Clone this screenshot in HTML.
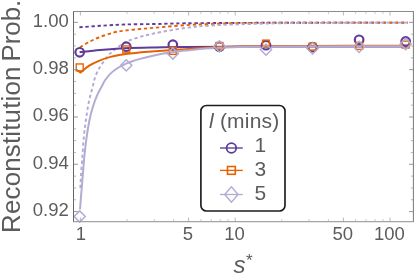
<!DOCTYPE html>
<html><head><meta charset="utf-8"><title>chart</title><style>html,body{margin:0;padding:0;background:#fff}body{width:415px;height:280px;overflow:hidden}</style></head><body>
<svg width="415" height="280" viewBox="0 0 415 280" style="display:block;will-change:transform">
<rect width="415" height="280" fill="#fff"/>
<defs><clipPath id="c"><rect x="73.50" y="11.50" width="339.90" height="210.10"/></clipPath></defs>
<g clip-path="url(#c)" fill="none" stroke-linejoin="round">
<path d="M79.40 27.30 C82.83 27.05 92.40 26.27 100.00 25.80 C107.60 25.33 115.83 24.80 125.00 24.50 C134.17 24.20 145.00 24.20 155.00 24.00 C165.00 23.80 170.83 23.48 185.00 23.30 C199.17 23.12 220.83 23.00 240.00 22.90 C259.17 22.80 272.02 22.75 300.00 22.70 C327.98 22.65 389.92 22.62 407.90 22.60" stroke="#5e3c99" stroke-width="1.9" stroke-dasharray="3.3492 2.7194"/>
<path d="M80.00 47.40 C81.33 46.58 84.85 44.15 88.00 42.50 C91.15 40.85 94.67 39.15 98.90 37.50 C103.13 35.85 109.05 33.75 113.40 32.60 C117.75 31.45 120.57 31.20 125.00 30.60 C129.43 30.00 135.00 29.48 140.00 29.00 C145.00 28.52 147.50 28.33 155.00 27.70 C162.50 27.07 175.83 25.82 185.00 25.20 C194.17 24.58 200.83 24.35 210.00 24.00 C219.17 23.65 225.00 23.32 240.00 23.10 C255.00 22.88 272.02 22.78 300.00 22.70 C327.98 22.62 389.92 22.62 407.90 22.60" stroke="#e66101" stroke-width="1.9" stroke-dasharray="3.3805 2.7447"/>
<path d="M80.30 188.00 C80.42 185.83 80.65 180.33 81.00 175.00 C81.35 169.67 81.93 162.28 82.40 156.00 C82.87 149.72 83.22 143.30 83.80 137.30 C84.38 131.30 85.07 125.83 85.90 120.00 C86.73 114.17 87.60 108.13 88.80 102.30 C90.00 96.47 92.02 89.27 93.10 85.00 C94.18 80.73 94.33 79.40 95.30 76.70 C96.27 74.00 97.58 71.20 98.90 68.80 C100.22 66.40 101.63 64.50 103.20 62.30 C104.77 60.10 106.85 57.32 108.30 55.60 C109.75 53.88 109.12 54.20 111.90 52.00 C114.68 49.80 120.32 44.90 125.00 42.40 C129.68 39.90 135.00 38.53 140.00 37.00 C145.00 35.47 147.50 34.70 155.00 33.20 C162.50 31.70 175.83 29.27 185.00 28.00 C194.17 26.73 200.83 26.22 210.00 25.60 C219.17 24.98 225.00 24.73 240.00 24.30 C255.00 23.87 272.02 23.28 300.00 23.00 C327.98 22.72 389.92 22.67 407.90 22.60" stroke="#b2abd2" stroke-width="1.9" stroke-dasharray="3.3306 2.7042"/>
<path d="M79.60 52.30 C83.00 51.92 92.43 50.68 100.00 50.00 C107.57 49.32 115.83 48.63 125.00 48.20 C134.17 47.77 145.00 47.60 155.00 47.40 C165.00 47.20 170.83 47.13 185.00 47.00 C199.17 46.87 220.83 46.69 240.00 46.60 C259.17 46.51 272.02 46.48 300.00 46.45 C327.98 46.43 389.92 46.45 407.90 46.45" stroke="#5e3c99" stroke-width="2"/>
<path d="M77.20 70.30 C77.77 70.68 80.03 72.22 80.60 72.60 L80.60 72.60 C81.97 71.48 85.75 67.87 88.80 65.90 C91.85 63.93 95.28 62.30 98.90 60.80 C102.52 59.30 106.88 57.90 110.50 56.90 C114.12 55.90 117.35 55.38 120.60 54.80 C123.85 54.22 124.27 54.00 130.00 53.40 C135.73 52.80 145.83 51.90 155.00 51.20 C164.17 50.50 175.83 49.82 185.00 49.20 C194.17 48.58 200.83 47.95 210.00 47.50 C219.17 47.05 225.00 46.76 240.00 46.50 C255.00 46.24 272.02 46.06 300.00 45.95 C327.98 45.84 389.92 45.87 407.90 45.85" stroke="#e66101" stroke-width="2"/>
<path d="M80.00 209.30 C80.19 206.92 80.68 200.72 81.15 195.00 C81.62 189.28 82.24 181.67 82.80 175.00 C83.36 168.33 83.87 161.28 84.50 155.00 C85.13 148.72 85.77 143.13 86.60 137.30 C87.43 131.47 88.45 125.10 89.50 120.00 C90.55 114.90 91.62 110.85 92.90 106.70 C94.18 102.55 95.60 98.72 97.20 95.10 C98.80 91.48 101.25 87.38 102.50 85.00 C103.75 82.62 103.37 82.70 104.70 80.80 C106.03 78.90 108.33 75.73 110.50 73.60 C112.67 71.47 115.30 69.57 117.70 68.00 C120.10 66.43 122.85 65.18 124.90 64.20 C126.95 63.22 127.48 62.98 130.00 62.10 C132.52 61.22 135.83 60.05 140.00 58.90 C144.17 57.75 150.00 56.27 155.00 55.20 C160.00 54.13 165.00 53.27 170.00 52.50 C175.00 51.73 178.33 51.30 185.00 50.60 C191.67 49.90 200.83 48.90 210.00 48.30 C219.17 47.70 225.00 47.32 240.00 47.00 C255.00 46.68 272.02 46.53 300.00 46.40 C327.98 46.27 389.92 46.23 407.90 46.20" stroke="#b2abd2" stroke-width="2"/>
</g>
<g fill="none" stroke-width="1.45">
<circle cx="79.70" cy="52.30" r="4.3" stroke="#5e3c99" stroke-width="2.2"/>
<circle cx="126.27" cy="46.70" r="4.3" stroke="#5e3c99" stroke-width="2.2"/>
<circle cx="172.84" cy="44.70" r="4.3" stroke="#5e3c99" stroke-width="2.2"/>
<circle cx="219.41" cy="46.70" r="4.3" stroke="#5e3c99" stroke-width="2.2"/>
<circle cx="265.98" cy="45.20" r="4.3" stroke="#5e3c99" stroke-width="2.2"/>
<circle cx="312.55" cy="47.20" r="4.3" stroke="#5e3c99" stroke-width="2.2"/>
<circle cx="359.12" cy="39.80" r="4.3" stroke="#5e3c99" stroke-width="2.2"/>
<circle cx="405.69" cy="41.50" r="4.3" stroke="#5e3c99" stroke-width="2.2"/>
<rect x="76.25" y="63.95" width="6.9" height="6.9" stroke="#e66101" stroke-width="1.35"/>
<rect x="122.82" y="45.95" width="6.9" height="6.9" stroke="#e66101" stroke-width="1.35"/>
<rect x="169.39" y="47.45" width="6.9" height="6.9" stroke="#e66101" stroke-width="1.35"/>
<rect x="215.96" y="42.45" width="6.9" height="6.9" stroke="#e66101" stroke-width="1.35"/>
<rect x="262.53" y="40.15" width="6.9" height="6.9" stroke="#e66101" stroke-width="1.35"/>
<rect x="309.10" y="43.15" width="6.9" height="6.9" stroke="#e66101" stroke-width="1.35"/>
<rect x="355.67" y="42.45" width="6.9" height="6.9" stroke="#e66101" stroke-width="1.35"/>
<rect x="402.24" y="41.15" width="6.9" height="6.9" stroke="#e66101" stroke-width="1.35"/>
<path d="M74.10 216.50 L79.70 210.90 L85.30 216.50 L79.70 222.10Z" stroke="#b2abd2"/>
<path d="M120.67 65.30 L126.27 59.70 L131.87 65.30 L126.27 70.90Z" stroke="#b2abd2"/>
<path d="M167.24 53.50 L172.84 47.90 L178.44 53.50 L172.84 59.10Z" stroke="#b2abd2"/>
<path d="M213.81 46.30 L219.41 40.70 L225.01 46.30 L219.41 51.90Z" stroke="#b2abd2"/>
<path d="M260.38 49.60 L265.98 44.00 L271.58 49.60 L265.98 55.20Z" stroke="#b2abd2"/>
<path d="M306.95 48.40 L312.55 42.80 L318.15 48.40 L312.55 54.00Z" stroke="#b2abd2"/>
<path d="M353.52 46.80 L359.12 41.20 L364.72 46.80 L359.12 52.40Z" stroke="#b2abd2"/>
<path d="M400.09 44.00 L405.69 38.40 L411.29 44.00 L405.69 49.60Z" stroke="#b2abd2"/>
</g>
<g fill="none">
<path d="M73.50 11.00V222.10" stroke="#666" stroke-width="1"/>
<path d="M413.40 11.00V222.10" stroke="#777" stroke-width="1"/>
<path d="M73.50 11.50H413.40" stroke="#8c8c8c" stroke-width="1"/>
<path d="M73.50 221.60H413.40" stroke="#a4a4a4" stroke-width="1.1"/>
<path d="M80.40 221.60v-4 M80.40 11.50v4" stroke="#999" stroke-width="0.7"/>
<path d="M188.60 221.60v-4 M188.60 11.50v4" stroke="#999" stroke-width="0.7"/>
<path d="M235.20 221.60v-4 M235.20 11.50v4" stroke="#999" stroke-width="0.7"/>
<path d="M343.40 221.60v-4 M343.40 11.50v4" stroke="#999" stroke-width="0.7"/>
<path d="M390.00 221.60v-4 M390.00 11.50v4" stroke="#999" stroke-width="0.7"/>
<path d="M127.00 221.60v-2.6 M127.00 11.50v2.6" stroke="#aaa" stroke-width="0.6"/>
<path d="M154.26 221.60v-2.6 M154.26 11.50v2.6" stroke="#aaa" stroke-width="0.6"/>
<path d="M173.60 221.60v-2.6 M173.60 11.50v2.6" stroke="#aaa" stroke-width="0.6"/>
<path d="M200.86 221.60v-2.6 M200.86 11.50v2.6" stroke="#aaa" stroke-width="0.6"/>
<path d="M211.22 221.60v-2.6 M211.22 11.50v2.6" stroke="#aaa" stroke-width="0.6"/>
<path d="M220.20 221.60v-2.6 M220.20 11.50v2.6" stroke="#aaa" stroke-width="0.6"/>
<path d="M228.12 221.60v-2.6 M228.12 11.50v2.6" stroke="#aaa" stroke-width="0.6"/>
<path d="M281.80 221.60v-2.6 M281.80 11.50v2.6" stroke="#aaa" stroke-width="0.6"/>
<path d="M309.06 221.60v-2.6 M309.06 11.50v2.6" stroke="#aaa" stroke-width="0.6"/>
<path d="M328.40 221.60v-2.6 M328.40 11.50v2.6" stroke="#aaa" stroke-width="0.6"/>
<path d="M355.66 221.60v-2.6 M355.66 11.50v2.6" stroke="#aaa" stroke-width="0.6"/>
<path d="M366.02 221.60v-2.6 M366.02 11.50v2.6" stroke="#aaa" stroke-width="0.6"/>
<path d="M375.00 221.60v-2.6 M375.00 11.50v2.6" stroke="#aaa" stroke-width="0.6"/>
<path d="M382.92 221.60v-2.6 M382.92 11.50v2.6" stroke="#aaa" stroke-width="0.6"/>
<path d="M73.50 211.60h4.3 M413.40 211.60h-4.3" stroke="#888" stroke-width="0.9"/>
<path d="M73.50 199.77h2.6 M413.40 199.77h-2.6" stroke="#999" stroke-width="0.7"/>
<path d="M73.50 187.94h2.6 M413.40 187.94h-2.6" stroke="#999" stroke-width="0.7"/>
<path d="M73.50 176.11h2.6 M413.40 176.11h-2.6" stroke="#999" stroke-width="0.7"/>
<path d="M73.50 164.29h4.3 M413.40 164.29h-4.3" stroke="#888" stroke-width="0.9"/>
<path d="M73.50 152.46h2.6 M413.40 152.46h-2.6" stroke="#999" stroke-width="0.7"/>
<path d="M73.50 140.63h2.6 M413.40 140.63h-2.6" stroke="#999" stroke-width="0.7"/>
<path d="M73.50 128.80h2.6 M413.40 128.80h-2.6" stroke="#999" stroke-width="0.7"/>
<path d="M73.50 116.97h4.3 M413.40 116.97h-4.3" stroke="#888" stroke-width="0.9"/>
<path d="M73.50 105.15h2.6 M413.40 105.15h-2.6" stroke="#999" stroke-width="0.7"/>
<path d="M73.50 93.32h2.6 M413.40 93.32h-2.6" stroke="#999" stroke-width="0.7"/>
<path d="M73.50 81.49h2.6 M413.40 81.49h-2.6" stroke="#999" stroke-width="0.7"/>
<path d="M73.50 69.66h4.3 M413.40 69.66h-4.3" stroke="#888" stroke-width="0.9"/>
<path d="M73.50 57.83h2.6 M413.40 57.83h-2.6" stroke="#999" stroke-width="0.7"/>
<path d="M73.50 46.01h2.6 M413.40 46.01h-2.6" stroke="#999" stroke-width="0.7"/>
<path d="M73.50 34.18h2.6 M413.40 34.18h-2.6" stroke="#999" stroke-width="0.7"/>
<path d="M73.50 22.35h4.3 M413.40 22.35h-4.3" stroke="#888" stroke-width="0.9"/>
</g>
<g font-family="'Liberation Sans', sans-serif" fill="#5c5c5c" >
<text x="68.8" y="26.60" font-size="18.5" text-anchor="end">1.00</text>
<text x="68.8" y="73.91" font-size="18.5" text-anchor="end">0.98</text>
<text x="68.8" y="121.22" font-size="18.5" text-anchor="end">0.96</text>
<text x="68.8" y="168.54" font-size="18.5" text-anchor="end">0.94</text>
<text x="68.8" y="215.85" font-size="18.5" text-anchor="end">0.92</text>
<text x="81.00" y="239.6" font-size="18.5" text-anchor="middle">1</text>
<text x="188.00" y="239.6" font-size="18.5" text-anchor="middle">5</text>
<text x="234.60" y="239.6" font-size="18.5" text-anchor="middle">10</text>
<text x="342.80" y="239.6" font-size="18.5" text-anchor="middle">50</text>
<text x="389.40" y="239.6" font-size="18.5" text-anchor="middle">100</text>
<text transform="translate(20.1,232.9) rotate(-90)" font-size="25.8" letter-spacing="0.22">Reconstitution</text>
<text transform="translate(20.1,61.5) rotate(-90)" font-size="25.8" letter-spacing="0">Prob.</text>
<text x="233.5" y="272.5" font-size="24" font-style="italic">s</text>
<text x="246" y="265.5" font-size="17">*</text>
<rect x="200.9" y="105.5" width="84.1" height="105.5" rx="5.6" fill="#fff" stroke="#1c1c1c" stroke-width="1.65"/>
<text x="209" y="128.1" font-size="21" font-style="italic">l</text>
<text x="219.9" y="128.1" font-size="21" letter-spacing="0.2">(mins)</text>
<path d="M220 148.00H242.8" stroke="#5e3c99" stroke-width="1.35"/>
<circle cx="231.40" cy="148.00" r="4.8" fill="none" stroke="#5e3c99" stroke-width="1.8"/>
<text x="254.4" y="152.40" font-size="21">1</text>
<path d="M220 170.40H242.8" stroke="#e66101" stroke-width="1.35"/>
<rect x="227.50" y="166.50" width="7.8" height="7.8" fill="none" stroke="#e66101" stroke-width="1.6"/>
<text x="254.4" y="176.30" font-size="21">3</text>
<path d="M220 194.50H242.8" stroke="#b2abd2" stroke-width="1.35"/>
<path d="M224.70 194.50 L231.40 186.80 L238.10 194.50 L231.40 202.20Z" fill="none" stroke="#b2abd2" stroke-width="1.4"/>
<text x="254.4" y="200.00" font-size="21">5</text>
</g>
</svg>
</body></html>
